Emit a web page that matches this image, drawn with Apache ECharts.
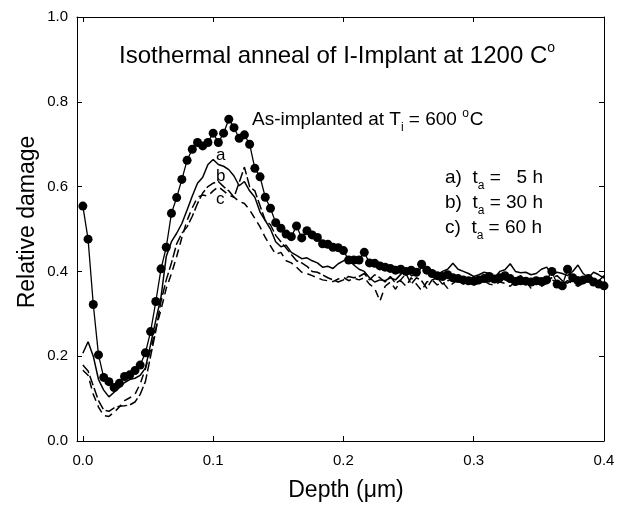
<!DOCTYPE html>
<html><head><meta charset="utf-8">
<script src="https://cdn.jsdelivr.net/npm/echarts@6/dist/echarts.min.js"></script>
<style>html,body{margin:0;padding:0;background:#fff}#c{width:619px;height:513px}</style>
</head><body><div id="c"></div>
<script>
const depth = [0.000,0.004,0.008,0.012,0.016,0.020,0.024,0.028,0.032,0.036,
0.040,0.044,0.048,0.052,0.056,0.060,0.064,0.068,0.072,0.076,
0.080,0.084,0.088,0.092,0.096,0.100,0.104,0.108,0.112,0.116,
0.120,0.124,0.128,0.132,0.136,0.140,0.144,0.148,0.152,0.156,
0.160,0.164,0.168,0.172,0.176,0.180,0.184,0.188,0.192,0.196,
0.200,0.204,0.208,0.212,0.216,0.220,0.224,0.228,0.232,0.236,
0.240,0.244,0.248,0.252,0.256,0.260,0.264,0.268,0.272,0.276,
0.280,0.284,0.288,0.292,0.296,0.300,0.304,0.308,0.312,0.316,
0.320,0.324,0.328,0.332,0.336,0.340,0.344,0.348,0.352,0.356,
0.360,0.364,0.368,0.372,0.376,0.380,0.384,0.388,0.392,0.396,0.400];

const asImplanted = [0.554,0.476,0.322,0.203,0.150,0.140,0.126,0.136,0.152,0.156,
0.166,0.179,0.208,0.258,0.329,0.406,0.457,0.537,0.574,0.617,
0.662,0.688,0.704,0.696,0.704,0.726,0.704,0.726,0.759,0.739,
0.714,0.722,0.700,0.643,0.623,0.575,0.549,0.515,0.502,0.488,
0.482,0.507,0.479,0.496,0.486,0.480,0.465,0.464,0.457,0.456,
0.449,0.427,0.427,0.427,0.445,0.420,0.419,0.413,0.410,0.407,
0.403,0.405,0.400,0.403,0.398,0.417,0.403,0.395,0.390,0.388,
0.392,0.385,0.383,0.380,0.378,0.377,0.380,0.383,0.388,0.382,
0.385,0.390,0.383,0.376,0.378,0.377,0.375,0.378,0.376,0.380,
0.400,0.370,0.366,0.405,0.385,0.378,0.380,0.383,0.375,0.370,0.366];

const annealA = [0.207,0.234,0.200,0.145,0.120,0.104,0.115,0.126,0.138,0.145,
0.148,0.155,0.172,0.228,0.285,0.340,0.435,0.470,0.490,0.513,
0.545,0.578,0.608,0.622,0.652,0.664,0.652,0.648,0.640,0.625,
0.602,0.612,0.590,0.575,0.540,0.520,0.500,0.470,0.458,0.462,
0.445,0.438,0.430,0.432,0.425,0.420,0.410,0.412,0.407,0.418,
0.425,0.430,0.415,0.405,0.400,0.385,0.375,0.380,0.378,0.385,
0.380,0.393,0.405,0.390,0.392,0.410,0.400,0.388,0.392,0.400,
0.405,0.419,0.405,0.400,0.395,0.388,0.392,0.398,0.395,0.385,
0.400,0.404,0.418,0.400,0.397,0.398,0.392,0.395,0.405,0.410,
0.392,0.398,0.395,0.390,0.400,0.415,0.395,0.385,0.398,0.392,0.384];

const annealB = [0.179,0.165,0.130,0.095,0.073,0.070,0.078,0.082,0.083,0.085,
0.092,0.110,0.140,0.200,0.260,0.330,0.380,0.420,0.465,0.490,
0.505,0.530,0.560,0.585,0.600,0.608,0.612,0.600,0.590,0.575,
0.610,0.646,0.600,0.590,0.555,0.520,0.510,0.485,0.470,0.455,
0.440,0.425,0.420,0.412,0.400,0.398,0.392,0.385,0.380,0.375,
0.380,0.388,0.385,0.388,0.395,0.380,0.392,0.385,0.375,0.388,
0.372,0.380,0.395,0.370,0.385,0.378,0.360,0.380,0.385,0.370,
0.378,0.382,0.376,0.372,0.380,0.385,0.378,0.382,0.375,0.385,
0.392,0.380,0.375,0.384,0.390,0.378,0.360,0.375,0.382,0.378,
0.385,0.390,0.378,0.372,0.382,0.387,0.380,0.390,0.382,0.378,0.390];

const annealC = [0.167,0.155,0.110,0.080,0.060,0.058,0.068,0.080,0.095,0.102,
0.110,0.135,0.170,0.215,0.265,0.310,0.360,0.395,0.435,0.480,
0.520,0.550,0.575,0.580,0.578,0.590,0.600,0.590,0.580,0.575,
0.565,0.560,0.545,0.525,0.505,0.480,0.460,0.440,0.445,0.425,
0.420,0.410,0.398,0.395,0.390,0.385,0.380,0.378,0.376,0.382,
0.386,0.378,0.384,0.380,0.385,0.370,0.360,0.330,0.365,0.375,
0.358,0.378,0.365,0.385,0.370,0.355,0.375,0.380,0.368,0.375,
0.360,0.372,0.380,0.370,0.375,0.368,0.372,0.378,0.370,0.368,
0.375,0.372,0.365,0.376,0.380,0.370,0.372,0.378,0.365,0.372,
0.380,0.375,0.370,0.378,0.372,0.365,0.372,0.378,0.370,0.375,0.372];

const pairs = ys => depth.map((d, i) => [d, ys[i]]);
const FONT = 'Liberation Sans, Arial, sans-serif';
const chart = echarts.init(document.getElementById('c'));
const baseAxis = () => ({
  axisLine: {show: true, onZero: false, lineStyle: {color: '#000', width: 1}},
  axisTick: {show: true, inside: true, length: 5, lineStyle: {color: '#000', width: 1}},
  splitLine: {show: false}
});
const subRich = {
  n: {fontSize: 19, fontFamily: FONT, fill: '#000', lineHeight: 21, verticalAlign: 'top', padding: [2,0,0,0]},
  b: {fontSize: 12, fontFamily: FONT, fill: '#000', lineHeight: 12, verticalAlign: 'top', padding: [14,0,0,0]},
  s: {fontSize: 12, fontFamily: FONT, fill: '#000', lineHeight: 12, verticalAlign: 'top', padding: [0,1,0,0]}
};
chart.setOption({
  animation: false,
  backgroundColor: '#fff',
  grid: {left: 77, right: 15, top: 17, bottom: 72, containLabel: false},
  xAxis: [
    Object.assign(baseAxis(), {
      type: 'value', min: -0.0045, max: 0.4, position: 'bottom',
      axisLabel: {color: '#000', fontSize: 15, fontFamily: FONT, margin: 12,
        formatter: v => v < -0.001 ? '' : v.toFixed(1)}
    }),
    Object.assign(baseAxis(), {
      type: 'value', min: -0.0045, max: 0.4, position: 'top',
      axisLabel: {show: false}
    })
  ],
  yAxis: [
    Object.assign(baseAxis(), {
      type: 'value', min: 0, max: 1, interval: 0.2, position: 'left',
      axisLabel: {color: '#000', fontSize: 15, fontFamily: FONT, margin: 9,
        formatter: v => v.toFixed(1)}
    }),
    Object.assign(baseAxis(), {
      type: 'value', min: 0, max: 1, interval: 0.2, position: 'right',
      axisLabel: {show: false}
    })
  ],
  series: [
    {type: 'line', data: pairs(annealA), showSymbol: false, symbol: 'none',
     lineStyle: {color: '#000', width: 1.5, type: 'solid'}, z: 2},
    {type: 'line', data: pairs(annealB), showSymbol: false, symbol: 'none',
     lineStyle: {color: '#000', width: 1.5, type: [10, 3]}, z: 2},
    {type: 'line', data: pairs(annealC), showSymbol: false, symbol: 'none',
     lineStyle: {color: '#000', width: 1.5, type: [8, 5]}, z: 2},
    {type: 'line', data: pairs(asImplanted), symbol: 'circle', symbolSize: 9, showSymbol: true,
     itemStyle: {color: '#000', borderWidth: 0},
     lineStyle: {color: '#000', width: 1.3}, z: 3}
  ],
  graphic: [
    {type: 'text', left: 119, top: 41, style: {
      text: '{n|Isothermal anneal of I-Implant at 1200 C}{s|o}',
      rich: {n: {fontSize: 24, fontFamily: FONT, fill: '#000', lineHeight: 27, verticalAlign: 'bottom'},
             s: {fontSize: 14, fontFamily: FONT, fill: '#000', lineHeight: 14, verticalAlign: 'top'}}}},
    {type: 'text', left: 252, top: 108, style: {
      text: '{n|As-implanted at T}{b|i}{n| = 600 }{s|o}{n|C}', rich: subRich}},
    {type: 'text', left: 445, top: 166, style: {text: '{n|a)  t}{b|a}{n| =   5 h}', rich: subRich}},
    {type: 'text', left: 445, top: 191, style: {text: '{n|b)  t}{b|a}{n| = 30 h}', rich: subRich}},
    {type: 'text', left: 445, top: 216, style: {text: '{n|c)  t}{b|a}{n| = 60 h}', rich: subRich}},
    {type: 'text', left: 216, top: 147, style: {text: 'a', fontSize: 17, fontFamily: FONT, fill: '#000'}},
    {type: 'text', left: 216, top: 168, style: {text: 'b', fontSize: 17, fontFamily: FONT, fill: '#000'}},
    {type: 'text', left: 216, top: 191, style: {text: 'c', fontSize: 17, fontFamily: FONT, fill: '#000'}},
    {type: 'text', x: 346, y: 491, style: {text: 'Depth (μm)', fontSize: 23, fontFamily: FONT, fill: '#000', align: 'center', verticalAlign: 'middle'}},
    {type: 'text', x: 28, y: 222, rotation: Math.PI / 2, style: {text: 'Relative damage', fontSize: 23, fontFamily: FONT, fill: '#000', align: 'center', verticalAlign: 'middle'}}
  ]
});
</script></body></html>
